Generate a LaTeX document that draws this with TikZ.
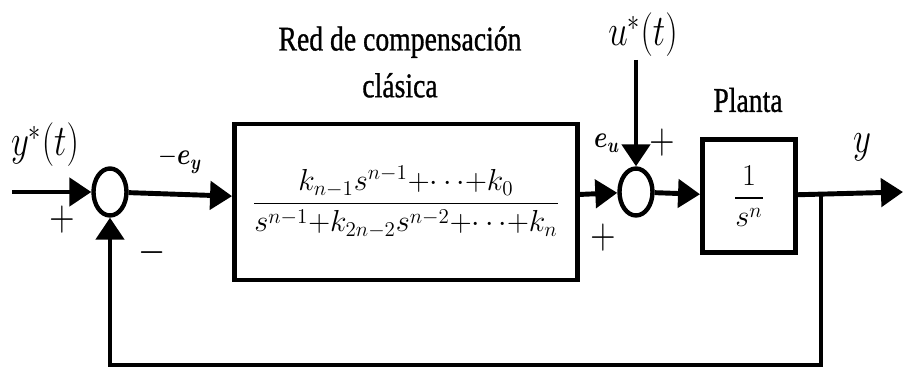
\documentclass[tikz,border=0pt]{standalone}
\usepackage{amsmath}
\usepackage{graphicx}
\usepackage{fontspec}
\usepackage{tikz}
\usetikzlibrary{arrows.meta,positioning,shapes.geometric}
\newfontfamily\ttlfont[FakeBold=1]{Liberation Serif}
\newcommand{\squeeze}[1]{\scalebox{0.8}[1]{#1}}
\tikzset{
  block/.style={draw, line width=2.8pt, inner sep=0pt, fill=white},
  sumnode/.style={draw, ellipse, line width=2.5pt, inner sep=0pt,
    minimum width=0.66cm, minimum height=0.94cm},
  sig/.style={line width=2.8pt, -{Triangle[length=0.44cm, width=0.56cm]}},
  wire/.style={line width=2.8pt},
  ttl/.style={font=\ttlfont\fontsize{19.7}{26.6}\selectfont, align=center, inner sep=0pt},
  mlbl/.style={font=\fontsize{23.8}{26}\selectfont, inner sep=0pt},
  elbl/.style={font=\fontsize{17}{20}\selectfont, inner sep=0pt},
  sgn/.style={font=\fontsize{24}{26}\selectfont, inner sep=0pt}
}

\begin{document}
\begin{tikzpicture}[x=0.02cm, y=-0.02cm]
    \useasboundingbox (0,0) rectangle (903,371);
    % bloques
    \node[sumnode] (s1) at (110,192) {};
    \node[block, minimum width=6.86cm, minimum height=3.12cm] (comp) at (406,202)
      {\fontsize{16.5}{20}\selectfont
       $\displaystyle\frac{k_{n-1}s^{n-1}{+}{\cdots}{+}k_0}{s^{n-1}{+}k_{2n-2}s^{n-2}{+}{\cdots}{+}k_n}$};
    \node[sumnode] (s2) at (636,192) {};
    \node[block, minimum width=1.86cm, minimum height=2.26cm] (plant) at (749,196)
      {\fontsize{18.5}{22}\selectfont $\displaystyle\frac{1}{s^n}$};

    \coordinate (in) at (12,192);
    \coordinate (out) at (903,192);
    \coordinate (br) at (821,192);
    \coordinate (fb) at (821,365);
    \coordinate (utop) at (636,60);

    % conexiones
    \draw[sig] (in) -- (s1);
    \draw[sig] (s1) -- (comp);
    \draw[sig] (comp) -- (s2);
    \draw[sig] (utop) -- (s2);
    \draw[sig] (s2) -- (plant);
    \draw[sig] (plant) -- (out);
    \draw[sig] (br) -- (fb) -| (s1);

    % etiquetas
    \node[ttl] (title) at (400,62) {\squeeze{Red de compensación}\\\squeeze{clásica}};
    \node[ttl] (ptitle) at (748,100) {\squeeze{Planta}};
    \node[mlbl] (ylbl) at (45,145) {\squeeze{$y^*(t)$}};
    \node[mlbl] (ulbl) at (643,35) {\squeeze{$u^*(t)$}};
    \node[mlbl] (yout) at (862,147) {\squeeze{$y$}};
    \node[elbl] (ey) at (180,160) {\squeeze{$-\boldsymbol{e}_{\boldsymbol{y}}$}};
    \node[elbl] (eu) at (607,143) {\squeeze{$\boldsymbol{e}_{\boldsymbol{u}}$}};
    \node[sgn] (p1) at (62,220) {\squeeze{$+$}};
    \node[sgn] (m1) at (152,253) {\squeeze{$-$}};
    \node[sgn] (p2) at (662,143) {\squeeze{$+$}};
    \node[sgn] (p3) at (603,238) {\squeeze{$+$}};
  \end{tikzpicture}
\end{document}
